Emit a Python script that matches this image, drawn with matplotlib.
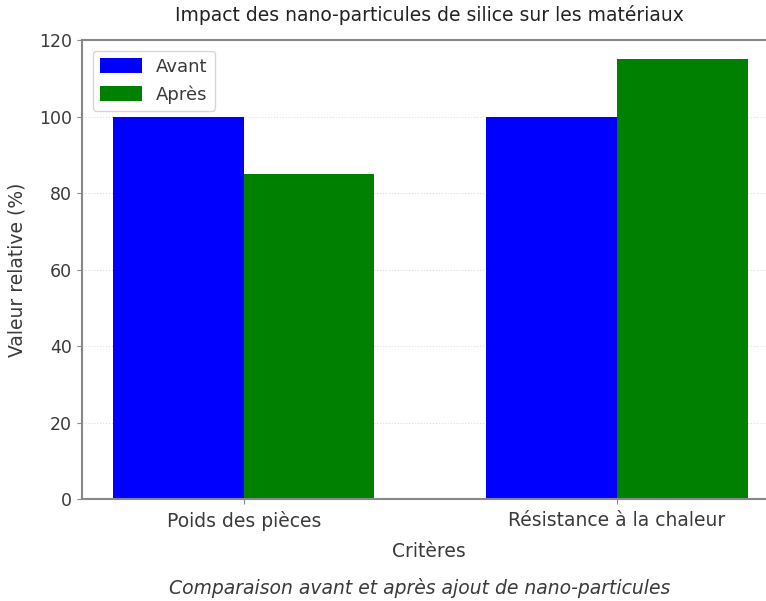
import numpy as np
import matplotlib
matplotlib.use('Agg')
from matplotlib import pyplot as plt

criteres = ['Poids des pièces', 'Résistance à la chaleur']
avant = [100, 100]
apres = [85, 115]

plt.rcParams['font.family'] = ['DejaVu Sans']
plt.rcParams['axes.edgecolor'] = '#888888'
plt.rcParams['xtick.color'] = '#888888'
plt.rcParams['ytick.color'] = '#888888'
plt.rcParams['xtick.labelcolor'] = '#3a3a3a'
plt.rcParams['ytick.labelcolor'] = '#3a3a3a'

fig = plt.figure(figsize=(7.66, 6.01), dpi=100)
ax = fig.add_axes([0.107, 0.1697, 0.906, 0.7637])

x = np.arange(len(criteres))
width = 0.35
ax.bar(x - width / 2, avant, width, color='blue', label='Avant')
ax.bar(x + width / 2, apres, width, color='green', label='Après')

ax.set_ylim(0, 120)
ax.set_xlim(-0.434, 1.426)
ax.set_xticks(x)
ax.set_xticklabels(criteres, fontsize=13.5)
ax.tick_params(axis='y', labelsize=12.5)
ax.tick_params(axis='x', pad=5)
ax.set_axisbelow(True)
ax.grid(axis='y', color='#dddddd', linestyle=':', linewidth=0.8)
for s in ax.spines.values():
    s.set_linewidth(1.5)

ax.set_xlabel('Critères', fontsize=13.5, color='#3a3a3a', labelpad=8)
ax.set_ylabel('Valeur relative (%)', fontsize=13.5, color='#3a3a3a', labelpad=9)
ax.set_title('Impact des nano-particules de silice sur les matériaux', fontsize=13.5, color='#222222', pad=14)
ax.legend(loc='upper left', fontsize=13, handlelength=2.3, handleheight=0.9, labelcolor='#3a3a3a',
          borderaxespad=0.6)

fig.text(0.548, 0.005, 'Comparaison avant et après ajout de nano-particules',
         ha='center', va='bottom', fontsize=13.5, style='italic', color='#3a3a3a')

fig.savefig('out.png', dpi=100)
